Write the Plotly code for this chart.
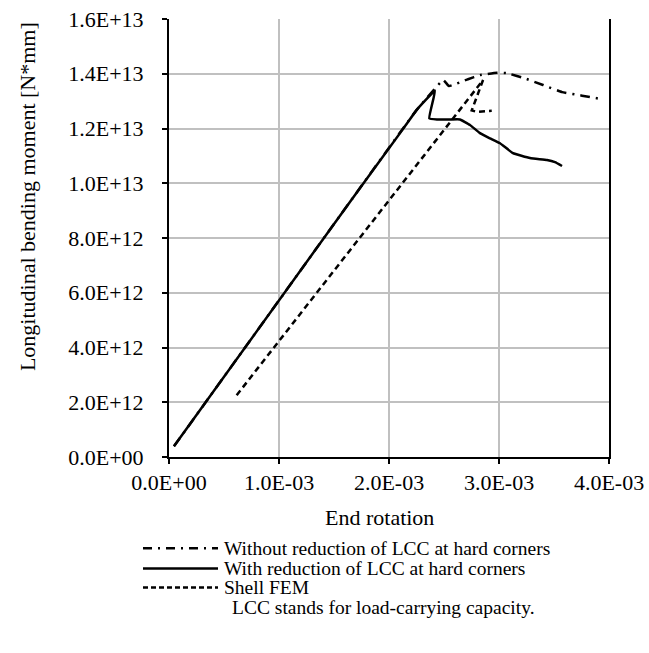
import plotly.graph_objects as go

# End rotation [-] and longitudinal bending moment [N*mm] for each model
rot_without = [0.045e-3, 1.661e-3, 2.252e-3, 2.494e-3, 2.545e-3, 2.718e-3, 2.827e-3, 2.982e-3,
               3.073e-3, 3.236e-3, 3.400e-3, 3.573e-3, 3.755e-3, 3.909e-3]
mom_without = [0.39e12, 9.41e12, 12.68e12, 13.77e12, 13.55e12, 13.80e12, 13.95e12, 14.04e12,
               14.02e12, 13.83e12, 13.59e12, 13.33e12, 13.20e12, 13.09e12]

rot_with = [0.045e-3, 1.661e-3, 2.140e-3, 2.252e-3, 2.418e-3, 2.366e-3, 2.436e-3, 2.555e-3,
            2.645e-3, 2.736e-3, 2.827e-3, 2.918e-3, 3.009e-3, 3.127e-3, 3.282e-3, 3.436e-3,
            3.509e-3, 3.573e-3]
mom_with = [0.39e12, 9.41e12, 12.05e12, 12.68e12, 13.38e12, 12.37e12, 12.33e12, 12.33e12,
            12.33e12, 12.13e12, 11.83e12, 11.64e12, 11.46e12, 11.10e12, 10.92e12, 10.85e12,
            10.77e12, 10.63e12]

rot_shell = [0.615e-3, 2.855e-3, 2.752e-3, 2.797e-3, 2.934e-3]
mom_shell = [2.256e12, 13.77e12, 12.66e12, 12.61e12, 12.65e12]

x_ticks = [0, 1e-3, 2e-3, 3e-3, 4e-3]
x_tick_text = ["0.0E+00", "1.0E-03", "2.0E-03", "3.0E-03", "4.0E-03"]
y_ticks = [0, 2e12, 4e12, 6e12, 8e12, 10e12, 12e12, 14e12, 16e12]
y_tick_text = ["0.0E+00", "2.0E+12", "4.0E+12", "6.0E+12", "8.0E+12",
               "1.0E+13", "1.2E+13", "1.4E+13", "1.6E+13"]

legend_names = ["Without reduction of LCC at hard corners",
                "With reduction of LCC at hard corners",
                "Shell FEM"]
note_text = "LCC stands for load-carrying capacity."

FONT = "Liberation Serif, Times New Roman, serif"
DASHDOT = "10px,6px,2px,6px"
DASH = "6px,4px"
LW = 2.5

fig = go.Figure()
fig.add_trace(go.Scatter(x=rot_without, y=mom_without, mode="lines", name=legend_names[0],
                         line=dict(color="black", width=LW, dash=DASHDOT, shape="spline",
                                   smoothing=0.3)))
fig.add_trace(go.Scatter(x=rot_with, y=mom_with, mode="lines", name=legend_names[1],
                         line=dict(color="black", width=LW, shape="spline", smoothing=0.3)))
fig.add_trace(go.Scatter(x=rot_shell, y=mom_shell, mode="lines", name=legend_names[2],
                         line=dict(color="black", width=LW, dash=DASH)))

# plot area in pixels: x 169..609, y 19..457
L, R, T, B = 169, 609, 19, 456.7
W, H = R - L, B - T


def px(x):
    return (x - L) / W


def py(y):
    return (B - y) / H


annotations = [
    dict(text="End rotation", x=px(379.5), y=py(517), xref="paper", yref="paper",
         showarrow=False, xanchor="center", yanchor="middle", font=dict(size=22)),
    dict(text="Longitudinal bending moment [N*mm]", x=px(27), y=py(197),
         xref="paper", yref="paper", showarrow=False, textangle=-90,
         xanchor="center", yanchor="middle", font=dict(size=22)),
]
shapes = []
row_y = [548, 568, 587]
dashes = ["9px,6px,2px,6px", "solid", "5px,3px"]
for name, yy, d in zip(legend_names, row_y, dashes):
    shapes.append(dict(type="line", xref="paper", yref="paper",
                       x0=px(143), x1=px(218), y0=py(yy), y1=py(yy),
                       line=dict(color="black", width=LW, dash=d)))
    annotations.append(dict(text=name, x=px(222), y=py(yy), xref="paper", yref="paper",
                            showarrow=False, xanchor="left", yanchor="middle",
                            font=dict(size=19.5)))
annotations.append(dict(text=note_text, x=px(230), y=py(607), xref="paper", yref="paper",
                        showarrow=False, xanchor="left", yanchor="middle",
                        font=dict(size=19.5)))

axis_common = dict(showgrid=True, gridcolor="#c0c0c0", gridwidth=1.5,
                   showline=True, linecolor="black", linewidth=2,
                   ticks="outside", ticklen=5, tickcolor="black", tickwidth=1.5,
                   zeroline=False, tickfont=dict(size=22))

fig.update_xaxes(range=[0, 4e-3], tickvals=x_ticks, ticktext=x_tick_text,
                 ticklabelstandoff=0, **axis_common)
fig.update_yaxes(range=[0, 1.6e13], tickvals=y_ticks, ticktext=y_tick_text,
                 mirror=True, ticklabelstandoff=14, **axis_common)

fig.update_layout(
    width=649, height=653,
    margin=dict(l=L, r=649 - R, t=T, b=653 - B, autoexpand=False),
    paper_bgcolor="white", plot_bgcolor="white",
    font=dict(family=FONT, color="black"),
    showlegend=False,
    annotations=annotations, shapes=shapes,
)

fig.write_html("out.html")
